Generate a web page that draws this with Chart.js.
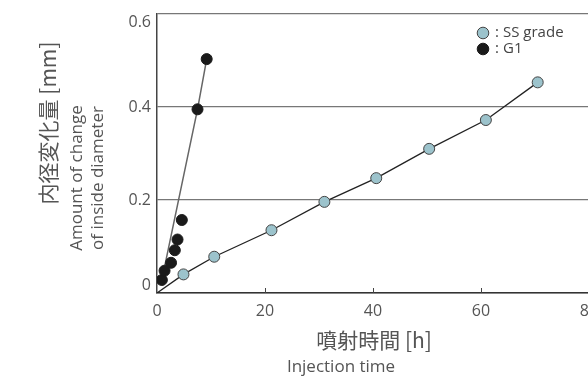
<!DOCTYPE html>
<html>
<head>
<meta charset="utf-8">
<script src="https://cdn.jsdelivr.net/npm/chart.js@4"></script>
<style>
  html, body { margin: 0; padding: 0; background: #fff; overflow: hidden; }
  #wrap { width: 620px; height: 379px; }
</style>
</head>
<body>
<div id="wrap"><canvas id="chart" width="620" height="379"></canvas></div>
<script>
// data
const ssHours  = [0, 4.9, 10.6, 21.2, 31.0, 40.6, 50.4, 60.9, 70.5];
const ssChange = [0, 0.040, 0.078, 0.135, 0.196, 0.247, 0.310, 0.372, 0.453];
const g1Hours  = [0.9, 1.4, 2.6, 3.3, 3.8, 4.6, 7.5, 9.2];
const g1Change = [0.028, 0.048, 0.065, 0.092, 0.115, 0.157, 0.395, 0.503];
// hand-drawn trend line through the G1 points
const g1LineHours  = [1.2, 7.5, 9.2];
const g1LineChange = [0.045, 0.395, 0.503];

const xTicks = [0, 20, 40, 60, 80];
const yTicks = [0, 0.2, 0.4, 0.6];

const yTitleJa = '内径変化量 [mm]';
const yTitleEn = ['Amount of change', 'of inside diameter'];
const xTitleJa = '噴射時間 [h]';
const xTitleEn = 'Injection time';
const legendNames = ['SS grade', 'G1'];

const txt = '#555';
const enFont = '"Open Sans", "Noto Sans", sans-serif';
const jaFont = '"Noto Sans CJK JP", sans-serif';

function pts(xs, ys) {
  return xs.map((x, i) => ({ x: x, y: ys[i] }));
}

// titles, legend and small inner tick marks
const extras = {
  id: 'extras',
  afterDraw(chart) {
    const ctx = chart.ctx;
    const a = chart.chartArea;
    const xs = chart.scales.x;
    ctx.save();

    // inner tick marks on the x axis
    ctx.strokeStyle = '#444';
    ctx.lineWidth = 1;
    xTicks.slice(1).forEach(v => {
      const px = Math.round(xs.getPixelForValue(v)) + 0.5;
      ctx.beginPath();
      ctx.moveTo(px, a.bottom);
      ctx.lineTo(px, a.bottom - 5);
      ctx.stroke();
    });

    ctx.fillStyle = txt;
    ctx.textAlign = 'center';
    ctx.textBaseline = 'middle';

    // x titles
    ctx.font = '21px ' + jaFont;
    ctx.fillText(xTitleJa, 374, 340);
    ctx.font = '17px ' + enFont;
    ctx.fillText(xTitleEn, 341, 367);

    // y titles (rotated)
    ctx.save();
    ctx.translate(48, 123);
    ctx.rotate(-Math.PI / 2);
    ctx.font = '21px ' + jaFont;
    ctx.fillText(yTitleJa, 0, 0);
    ctx.restore();

    ctx.font = '17px ' + enFont;
    [77, 98].forEach((cx, i) => {
      ctx.save();
      ctx.translate(cx, 178);
      ctx.rotate(-Math.PI / 2);
      ctx.fillText(yTitleEn[i], 0, 0);
      ctx.restore();
    });

    // legend
    const ds = chart.data.datasets;
    [33, 49].forEach((cy, i) => {
      ctx.beginPath();
      ctx.arc(483, cy, 5.8, 0, Math.PI * 2);
      ctx.fillStyle = ds[i].pointBackgroundColor;
      ctx.fill();
      ctx.lineWidth = 1;
      ctx.strokeStyle = ds[i].pointBorderColor;
      ctx.stroke();
      ctx.fillStyle = '#444';
      ctx.textAlign = 'left';
      ctx.font = '15px ' + enFont;
      ctx.fillText(':', 495, cy);
      ctx.fillText(legendNames[i], 503, cy);
    });
    ctx.restore();
  }
};

new Chart(document.getElementById('chart'), {
  type: 'scatter',
  data: {
    datasets: [
      {
        label: legendNames[0],
        data: pts(ssHours, ssChange),
        showLine: true,
        borderColor: '#222',
        borderWidth: 1.3,
        pointRadius: ssHours.map((h, i) => i === 0 ? 0 : 5.5),
        pointBackgroundColor: '#9cc3cc',
        pointBorderColor: '#444',
        pointBorderWidth: 1
      },
      {
        label: legendNames[1],
        data: pts(g1Hours, g1Change),
        showLine: false,
        pointRadius: 5.5,
        pointBackgroundColor: '#1a1a1a',
        pointBorderColor: '#1a1a1a',
        pointBorderWidth: 1
      },
      {
        label: 'G1 line',
        data: pts(g1LineHours, g1LineChange),
        showLine: true,
        borderColor: '#666',
        borderWidth: 1.5,
        pointRadius: 0
      }
    ]
  },
  options: {
    responsive: false,
    devicePixelRatio: 1,
    animation: false,
    layout: { padding: { left: 0, top: 14, right: 31, bottom: 0 } },
    plugins: { legend: { display: false }, tooltip: { enabled: false } },
    scales: {
      x: {
        type: 'linear',
        min: 0, max: 80,
        afterBuildTicks: s => { s.ticks = xTicks.map(v => ({ value: v })); },
        afterFit: s => { s.height = 86; s.paddingLeft = 0; s.paddingRight = 0; },
        grid: { display: false, drawTicks: false },
        border: { display: true, color: '#333', width: 1.5 },
        ticks: { color: txt, padding: 9, font: { family: enFont, size: 16 }, maxRotation: 0 }
      },
      y: {
        min: 0, max: 0.6,
        afterBuildTicks: s => { s.ticks = yTicks.map(v => ({ value: v })); },
        afterFit: s => { s.width = 157; s.paddingTop = 0; s.paddingBottom = 0; },
        grid: { color: '#777', lineWidth: 1.2, drawTicks: false },
        border: { display: true, color: '#444', width: 1.5 },
        ticks: {
          color: txt,
          padding: 6,
          font: { family: enFont, size: 16, lineHeight: 1.0 },
          callback: v => v === 0 ? ['0', ''] : (v >= 0.6 ? ['', v.toFixed(1)] : v.toFixed(1))
        }
      }
    }
  },
  plugins: [extras]
});
</script>
</body>
</html>
